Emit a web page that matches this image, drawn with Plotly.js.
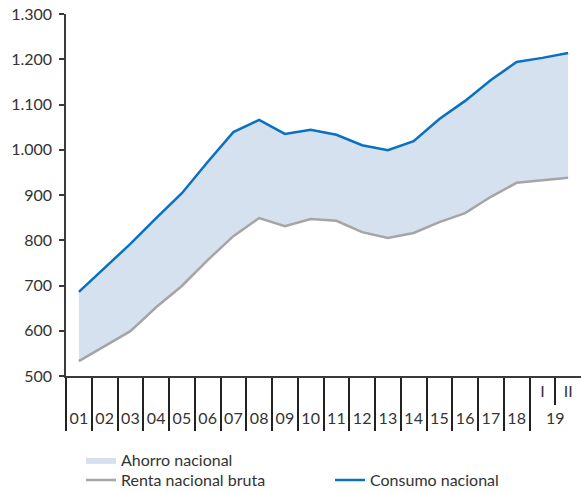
<!DOCTYPE html>
<html><head><meta charset="utf-8">
<script src="https://cdn.plot.ly/plotly-3.0.1.min.js"></script>
<style>html,body{margin:0;padding:0;background:#fff}</style>
</head><body>
<div id="chart" style="width:581px;height:492px"></div>
<script>
const periods = ['01','02','03','04','05','06','07','08','09','10','11','12','13','14','15','16','17','18','19 I','19 II'];
const yearLabels = ['01','02','03','04','05','06','07','08','09','10','11','12','13','14','15','16','17','18','19'];
const halfLabels = ['I','II'];
const rentaNacionalBruta = [533,566,599,652,699,756,809,849,831,847,843,818,805,816,840,860,896,927,933,938];
const consumoNacional = [686,738,792,849,904,973,1039,1066,1035,1044,1033,1010,999,1019,1068,1108,1154,1194,1203,1214];
const yTicks = [500,600,700,800,900,1000,1100,1200,1300];

const x = periods.map((_, i) => i);
const nYears = yearLabels.length;
const yearPos = yearLabels.map((_, i) => i < nYears - 1 ? i : (nYears - 1 + nYears) / 2);
const sepPos = yearLabels.map((_, i) => i - 0.5);
const halfPos = [nYears - 1, nYears];
const halfSep = [nYears - 0.5];
const xr = [-0.5, periods.length - 0.5];

const blue = '#0a70c2', gray = '#a5a5a5', fillc = '#d6e1ef', axc = '#3a3a3a';

const traces = [
  {x, y: rentaNacionalBruta, mode: 'lines', line: {width: 0}, showlegend: false, hoverinfo: 'skip'},
  {x, y: consumoNacional, mode: 'lines', line: {width: 0}, fill: 'tonexty', fillcolor: fillc, name: 'Ahorro nacional', legend: 'legend'},
  {x, y: rentaNacionalBruta, mode: 'lines', line: {color: gray, width: 2.5}, name: 'Renta nacional bruta', legend: 'legend2'},
  {x, y: consumoNacional, mode: 'lines', line: {color: blue, width: 2.5}, name: 'Consumo nacional', legend: 'legend3'},
  {x: yearPos, y: yearPos.map(() => null), xaxis: 'x2', mode: 'lines', showlegend: false, hoverinfo: 'skip'},
  {x: halfPos, y: halfPos.map(() => null), xaxis: 'x3', mode: 'lines', showlegend: false, hoverinfo: 'skip'}
];

const legendBase = {xref: 'container', yref: 'container', xanchor: 'left', yanchor: 'middle',
  orientation: 'h', bgcolor: 'rgba(0,0,0,0)', font: {size: 16}};

const layout = {
  width: 581, height: 492,
  margin: {l: 66, r: 0, t: 14, b: 116, pad: 0, autoexpand: false},
  separators: ',.',
  font: {family: 'Lato, "Open Sans", sans-serif', size: 16, color: '#333'},
  paper_bgcolor: '#fff', plot_bgcolor: '#fff',
  showlegend: true,
  xaxis: {
    range: xr, showline: true, linecolor: axc, linewidth: 1.5, showgrid: false, zeroline: false,
    tickmode: 'array', tickvals: sepPos, ticks: 'outside', ticklen: 53, tickcolor: '#222', tickwidth: 1.5,
    showticklabels: false,
    minor: {tickmode: 'array', tickvals: halfSep, ticks: 'outside', ticklen: 27, tickcolor: '#222', tickwidth: 1.5, showgrid: false}
  },
  xaxis2: {
    overlaying: 'x', anchor: 'y', side: 'bottom', range: xr, showline: false, showgrid: false, zeroline: false,
    tickmode: 'array', tickvals: yearPos, ticktext: yearLabels, ticks: '', ticklabelstandoff: 31
  },
  xaxis3: {
    overlaying: 'x', anchor: 'y', side: 'bottom', range: xr, showline: false, showgrid: false, zeroline: false,
    tickmode: 'array', tickvals: halfPos, ticktext: halfLabels, ticks: '', ticklabelstandoff: 4
  },
  yaxis: {
    range: [500, 1300], showline: true, linecolor: axc, linewidth: 1.5, showgrid: false, zeroline: false,
    tickmode: 'array', tickvals: yTicks, ticks: 'outside', ticklen: 5, tickcolor: axc, tickwidth: 1.5,
    tickformat: ',d', ticklabelstandoff: 4
  },
  legend: Object.assign({}, legendBase, {x: 0.1394, y: 0.065}),
  legend2: Object.assign({}, legendBase, {x: 0.1394, y: 0.024}),
  legend3: Object.assign({}, legendBase, {x: 0.568, y: 0.024})
};

Plotly.newPlot('chart', traces, layout, {displayModeBar: false, responsive: false});
</script>
</body></html>
